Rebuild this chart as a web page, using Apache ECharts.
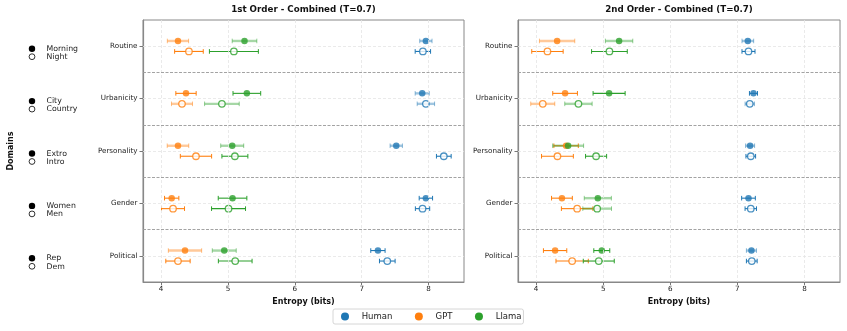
<!DOCTYPE html>
<html>
<head>
<meta charset="utf-8">
<script src="https://cdn.jsdelivr.net/npm/echarts@6/dist/echarts.min.js"></script>
<style>
  html, body { margin: 0; padding: 0; background: #fff; }
  #chart { width: 847px; height: 331px; }
</style>
</head>
<body>
<div id="chart"></div>
<script>
// categories / labels
const domains = ['Routine', 'Urbanicity', 'Personality', 'Gender', 'Political'];
const pairA = ['Morning', 'City', 'Extro', 'Women', 'Rep'];   // filled marker
const pairB = ['Night', 'Country', 'Intro', 'Men', 'Dem'];    // open marker
const xTicks = [4, 5, 6, 7, 8];
const yTicks = [0, 1, 2, 3, 4];
const separators = [0.5, 1.5, 2.5, 3.5];
const models = ['Human', 'GPT', 'Llama'];
const panelTitles = ['1st Order - Combined (T=0.7)', '2nd Order - Combined (T=0.7)'];

// entropy [mean, CI half width] per domain, 1st order
const o1HumanA = [[7.96, 0.092], [7.905, 0.105], [7.517, 0.092], [7.96, 0.10], [7.243, 0.107]];
const o1HumanB = [[7.915, 0.115], [7.96, 0.13], [8.228, 0.11], [7.91, 0.107], [7.383, 0.117]];
const o1GptA = [[4.253, 0.159], [4.373, 0.152], [4.253, 0.161], [4.159, 0.107], [4.358, 0.249]];
const o1GptB = [[4.417, 0.214], [4.313, 0.157], [4.522, 0.234], [4.179, 0.172], [4.253, 0.182]];
const o1LlamaA = [[5.248, 0.184], [5.283, 0.207], [5.064, 0.172], [5.069, 0.214], [4.945, 0.179]];
const o1LlamaB = [[5.089, 0.366], [4.91, 0.259], [5.104, 0.194], [5.009, 0.254], [5.109, 0.252]];

// 2nd order
const o2HumanA = [[7.156, 0.087], [7.24, 0.06], [7.19, 0.067], [7.166, 0.102], [7.21, 0.075]];
const o2HumanB = [[7.166, 0.097], [7.185, 0.07], [7.20, 0.072], [7.20, 0.085], [7.215, 0.08]];
const o2GptA = [[4.313, 0.263], [4.432, 0.184], [4.447, 0.182], [4.385, 0.155], [4.283, 0.174]];
const o2GptB = [[4.169, 0.234], [4.099, 0.179], [4.318, 0.237], [4.612, 0.235], [4.537, 0.241]];
const o2LlamaA = [[5.237, 0.204], [5.088, 0.239], [4.477, 0.231], [4.92, 0.202], [4.979, 0.119]];
const o2LlamaB = [[5.093, 0.266], [4.631, 0.204], [4.894, 0.157], [4.91, 0.214], [4.934, 0.231]];

const panels = [
  { Human: [o1HumanA, o1HumanB], GPT: [o1GptA, o1GptB], Llama: [o1LlamaA, o1LlamaB] },
  { Human: [o2HumanA, o2HumanB], GPT: [o2GptA, o2GptB], Llama: [o2LlamaA, o2LlamaB] },
];

// error bars drawn pale/thick in the original (panel|model|level|domain)
const paleBars = [
  '0|GPT|A|0', '0|Llama|A|0', '0|Human|A|0', '0|Human|A|1',
  '0|GPT|A|2', '0|Llama|A|2', '0|Human|A|2', '0|GPT|A|4', '0|Llama|A|4',
  '0|GPT|B|1', '0|Llama|B|1', '0|Human|B|1',
  '1|GPT|A|0', '1|Llama|A|0', '1|Human|A|0', '1|Llama|A|2', '1|Human|A|2',
  '1|Llama|A|3', '1|Human|A|4',
  '1|GPT|B|1', '1|Llama|B|1', '1|Human|B|1', '1|Llama|B|3',
];

const colors = { Human: '#1f77b4', GPT: '#ff7f0e', Llama: '#2ca02c' };
const font = 'DejaVu Sans';
const offsets = [-0.1, 0.1];
const levels = ['A', 'B'];

const grids = [
  { left: 143, top: 20, width: 321, height: 262 },
  { left: 518, top: 20, width: 322, height: 262 },
];

function errRenderer(p, m, lv) {
  return function (params, api) {
    const y = api.value(1);
    const a = api.coord([api.value(2), y]);
    const b = api.coord([api.value(3), y]);
    const pale = paleBars.includes(p + '|' + m + '|' + lv + '|' + params.dataIndex);
    const style = {
      stroke: colors[m],
      lineWidth: pale ? 2.4 : 1.1,
      opacity: pale ? 0.42 : 1,
    };
    const capStyle = { stroke: colors[m], lineWidth: 1, opacity: pale ? 0.5 : 1 };
    const capH = 2.3;
    return {
      type: 'group',
      children: [
        { type: 'line', shape: { x1: a[0], y1: a[1], x2: b[0], y2: b[1] }, style: style },
        { type: 'line', shape: { x1: a[0], y1: a[1] - capH, x2: a[0], y2: a[1] + capH }, style: capStyle },
        { type: 'line', shape: { x1: b[0], y1: b[1] - capH, x2: b[0], y2: b[1] + capH }, style: capStyle },
      ],
    };
  };
}

// helper series holding only reference lines
function refLines(p, items, lineStyle) {
  return {
    type: 'scatter',
    name: 'ref',
    xAxisIndex: p,
    yAxisIndex: p,
    data: [],
    silent: true,
    z: 1,
    markLine: {
      silent: true,
      symbol: ['none', 'none'],
      label: { show: false },
      animation: false,
      lineStyle: lineStyle,
      emphasis: { disabled: true },
      data: items,
    },
  };
}

const xAxes = [];
const yAxes = [];
const series = [];

grids.forEach((g, p) => {
  xAxes.push({
    type: 'value',
    gridIndex: p,
    min: 3.73,
    max: 8.53,
    name: 'Entropy (bits)',
    nameLocation: 'middle',
    nameGap: 14,
    nameTextStyle: { fontFamily: font, fontSize: 8, fontWeight: 'bold', color: '#111' },
    axisLine: { show: true, onZero: false, lineStyle: { color: '#888', width: 1 } },
    axisTick: { show: true, customValues: xTicks, length: 3, lineStyle: { color: '#777' } },
    axisLabel: { customValues: xTicks, fontFamily: font, fontSize: 7.2, color: '#222', margin: 4 },
    splitLine: { show: false },
  });
  yAxes.push({
    type: 'value',
    gridIndex: p,
    inverse: true,
    min: -0.5,
    max: 4.5,
    axisLine: { show: true, onZero: false, lineStyle: { color: '#888', width: 1.2 } },
    axisTick: { show: true, customValues: yTicks, length: 3.5, lineStyle: { color: '#777' } },
    axisLabel: {
      customValues: yTicks,
      fontFamily: font, fontSize: 7.2, color: '#222', margin: 5.5,
      formatter: (v) => domains[v],
    },
    splitLine: { show: false },
  });

  const light = { color: '#e4e4e4', type: [3, 2], width: 0.8 };
  series.push(refLines(p, xTicks.map((v) => ({ xAxis: v })), light));
  series.push(refLines(p, yTicks.map((v) => ({ yAxis: v })), light));
  series.push(refLines(p, separators.map((v) => ({ yAxis: v })), { color: '#999', type: [3, 1.5], width: 0.9 }));

  models.forEach((m) => {
    levels.forEach((lv, k) => {
      const vals = panels[p][m][k];
      series.push({
        type: 'custom',
        name: m,
        xAxisIndex: p,
        yAxisIndex: p,
        itemStyle: { color: colors[m] },
        renderItem: errRenderer(p, m, lv),
        encode: { x: [0, 2, 3], y: 1 },
        data: vals.map((d, i) => [d[0], i + offsets[k], d[0] - d[1], d[0] + d[1]]),
        z: 3,
        animation: false,
      });
      series.push({
        type: 'scatter',
        name: m,
        xAxisIndex: p,
        yAxisIndex: p,
        symbol: 'circle',
        symbolSize: 6.5,
        itemStyle: k === 0
          ? { color: colors[m] }
          : { color: '#fff', borderColor: colors[m], borderWidth: 1.3 },
        data: vals.map((d, i) => [d[0], i + offsets[k]]),
        z: 4,
        animation: false,
      });
    });
  });
});

const chart = echarts.init(document.getElementById('chart'));

const option = {
  backgroundColor: '#fff',
  animation: false,
  grid: grids.map((g) => Object.assign({
    show: true, borderColor: '#888', borderWidth: 1, containLabel: false, outerBoundsMode: 'none',
  }, g)),
  xAxis: xAxes,
  yAxis: yAxes,
  legend: {
    left: 333,
    top: 309,
    orient: 'horizontal',
    data: models.map((m) => ({ name: m, icon: 'circle', itemStyle: { color: colors[m], borderWidth: 0 } })),
    itemWidth: 8,
    itemHeight: 8,
    itemGap: 22.5,
    padding: [3, 2, 3, 8],
    borderColor: '#ccc',
    borderWidth: 0.8,
    borderRadius: 2,
    textStyle: { fontFamily: font, fontSize: 8.5, color: '#222', padding: [0, 0, 0, 7.7] },
  },
  tooltip: { show: false },
  series: series,
};

chart.setOption(option);

// panel titles, y-axis title and the filled/open key next to each domain
const graphics = [];
panelTitles.forEach((t, p) => {
  graphics.push({
    type: 'text',
    x: grids[p].left + grids[p].width / 2,
    y: 10,
    style: { text: t, fontFamily: font, fontSize: 8.7, fontWeight: 'bold', fill: '#111', align: 'center', verticalAlign: 'middle' },
  });
});
graphics.push({
  type: 'text',
  x: 11,
  y: grids[0].top + grids[0].height / 2,
  rotation: Math.PI / 2,
  style: { text: 'Domains', fontFamily: font, fontSize: 8, fontWeight: 'bold', fill: '#111', align: 'center', verticalAlign: 'middle' },
});
domains.forEach((d, i) => {
  const y = chart.convertToPixel({ yAxisIndex: 0 }, i);
  graphics.push({ type: 'circle', shape: { cx: 32, cy: y + 2.5, r: 3.2 }, style: { fill: '#000' } });
  graphics.push({ type: 'circle', shape: { cx: 32, cy: y + 10.5, r: 2.9 }, style: { fill: '#fff', stroke: '#000', lineWidth: 0.8 } });
  graphics.push({
    type: 'text', x: 46.5, y: y + 2.5,
    style: { text: pairA[i], fontFamily: font, fontSize: 7.8, fill: '#222', align: 'left', verticalAlign: 'middle' },
  });
  graphics.push({
    type: 'text', x: 46.5, y: y + 10.8,
    style: { text: pairB[i], fontFamily: font, fontSize: 7.8, fill: '#222', align: 'left', verticalAlign: 'middle' },
  });
});
chart.setOption({ graphic: graphics });

window.addEventListener('resize', () => {
  chart.resize();
});
</script>
</body>
</html>
